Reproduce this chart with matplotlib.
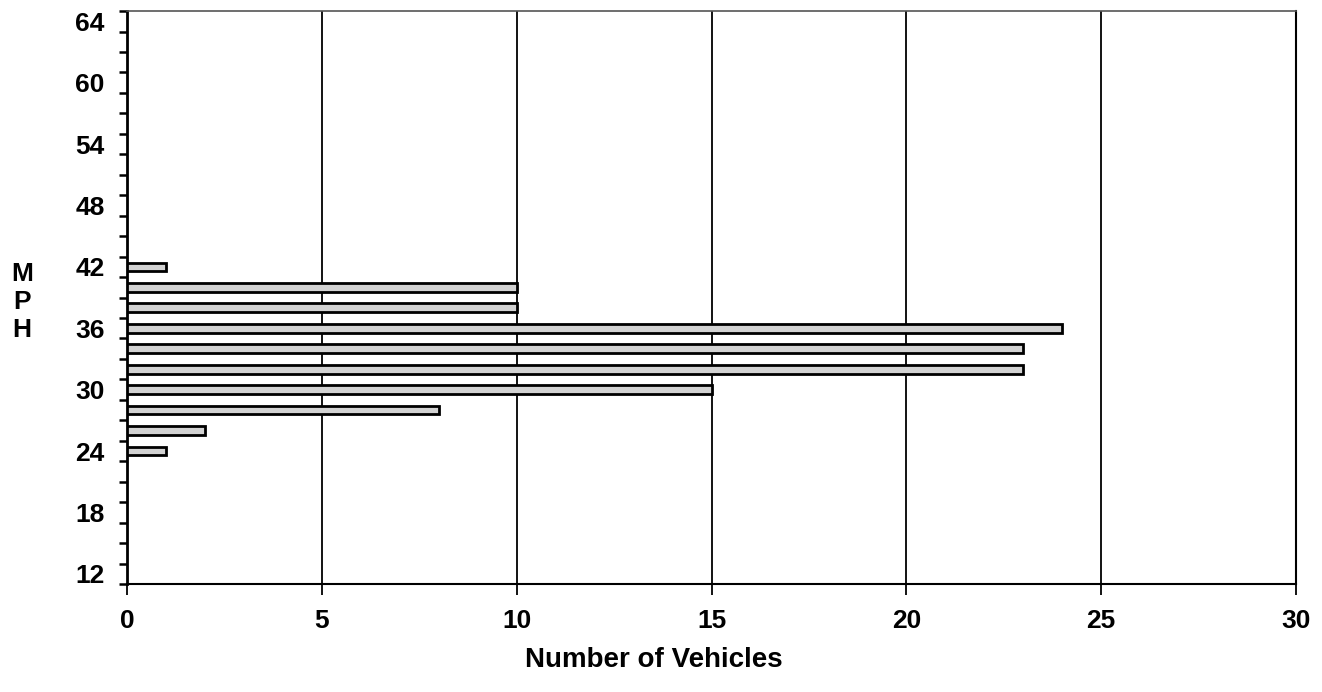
import matplotlib
matplotlib.use("Agg")
import matplotlib.pyplot as plt
import numpy as np

plt.rcParams['font.family'] = ['Liberation Sans', 'DejaVu Sans']
plt.rcParams['font.weight'] = 'bold'

# speed bins (mph) and number of vehicles in each
speeds = [24, 26, 28, 30, 32, 34, 36, 38, 40, 42]
vehicles = [1, 2, 8, 15, 23, 23, 24, 10, 10, 1]

ytick_pos = [12, 18, 24, 30, 36, 42, 48, 54, 60, 66]
ytick_labels = ['12', '18', '24', '30', '36', '42', '48', '54', '60', '64']
xticks = [0, 5, 10, 15, 20, 25, 30]

fig = plt.figure(figsize=(13.22, 6.92), dpi=100)
ax = fig.add_axes([0.0961, 0.156, 0.8842, 0.828])

ax.barh(speeds, vehicles, height=0.85, color='#d2d2d2',
        edgecolor='black', linewidth=2, zorder=3)

ax.set_xlim(0, 30)
ax.set_ylim(11, 67)

for x in xticks[1:-1]:
    ax.axvline(x, color='black', linewidth=1.3, zorder=1)

ax.set_xticks(xticks)
ax.set_xticklabels([str(v) for v in xticks], fontsize=19, fontweight='bold')
ax.tick_params(axis='x', direction='out', length=8, width=1.3, pad=10)

ax.set_yticks(ytick_pos)
ax.set_yticklabels(ytick_labels, fontsize=19, fontweight='bold')
ax.set_yticks(np.arange(11, 68, 2), minor=True)
ax.tick_params(axis='y', which='major', length=0, pad=16)
ax.tick_params(axis='y', which='minor', direction='out', length=6, width=1.8)

ax.spines['left'].set_linewidth(2)
ax.spines['bottom'].set_linewidth(1.5)
ax.spines['right'].set_linewidth(1.5)
ax.spines['top'].set_linewidth(1.2)
ax.spines['top'].set_color('#555555')

ax.set_xlabel('Number of Vehicles', fontsize=20, fontweight='bold')
ax.xaxis.set_label_coords(0.451, -0.11)

fig.text(0.0166, 0.5636, 'M\nP\nH', fontsize=19, fontweight='bold',
         ha='center', va='center', linespacing=1.2)

fig.savefig('out.png', dpi=100)
